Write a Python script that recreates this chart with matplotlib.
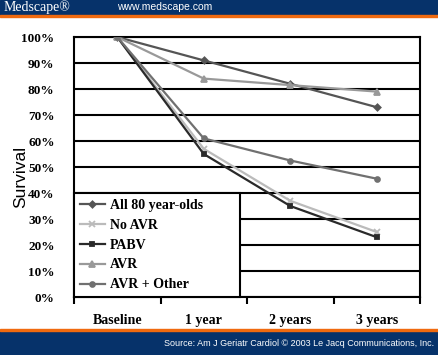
import matplotlib
matplotlib.use('Agg')
import matplotlib.pyplot as plt
from matplotlib.patches import Rectangle

# Data
categories = ['Baseline', '1 year', '2 years', '3 years']
all_80 = [100, 91, 82, 73]
no_avr = [100, 57, 37, 25]
pabv = [100, 55, 35, 23]
avr = [100, 84, 81.5, 79]
avr_other = [100, 61, 52.5, 45.5]
yticks = [0, 10, 20, 30, 40, 50, 60, 70, 80, 90, 100]

W, H = 438, 355
fig = plt.figure(figsize=(W / 100, H / 100), dpi=100)
fig.patch.set_facecolor('white')

navy = '#06326a'
orange = '#f06a0f'

# header / footer bands
fig.patches.append(Rectangle((0, 1 - 15 / H), 1, 15 / H, transform=fig.transFigure, color=navy, zorder=0))
fig.patches.append(Rectangle((0, 1 - 17 / H), 1, 2 / H, transform=fig.transFigure, color=orange, zorder=0))
fig.patches.append(Rectangle((0, 0), 1, 24 / H, transform=fig.transFigure, color=navy, zorder=0))
fig.patches.append(Rectangle((0, 24 / H), 1, 2 / H, transform=fig.transFigure, color=orange, zorder=0))
fig.text(4 / W, 1 - 7.5 / H, 'Medscape\u00ae', color='white', fontsize=10,
         family='Liberation Serif', va='center', ha='left')
fig.text(117 / W, 1 - 7.5 / H, 'www.medscape.com', color='white', fontsize=7.5,
         family='Liberation Sans', va='center', ha='left')
fig.text(1 - 4 / W, 11 / H, 'Source: Am J Geriatr Cardiol \u00a9 2003 Le Jacq Communications, Inc.',
         color='white', fontsize=6.5, family='Liberation Sans', va='center', ha='right')

ax = fig.add_axes([74 / W, 58 / H, 346 / W, 260 / H])
x = list(range(len(categories)))

series = [
    ('All 80 year-olds', all_80, '#555555', 'D', 3.2),
    ('No AVR', no_avr, '#bbbbbb', 'x', 4),
    ('PABV', pabv, '#2a2a2a', 's', 3.2),
    ('AVR', avr, '#999999', '^', 4),
    ('AVR + Other', avr_other, '#707070', 'o', 3.5),
]
for label, vals, col, mk, ms in series:
    ax.plot(x, vals, color=col, marker=mk, markersize=ms, lw=1.6, label=label,
            markeredgewidth=1.3, zorder=3)

ax.set_xlim(-0.5, 3.5)
ax.set_ylim(0, 100)
ax.set_yticks(yticks)
ax.set_yticklabels([f'{v}%' for v in yticks], family='Liberation Serif',
                   fontweight='bold', fontsize=9.5)
ax.set_xticks(x)
ax.set_xticklabels(categories, family='Liberation Serif', fontweight='bold', fontsize=10)
ax.tick_params(axis='x', length=0, pad=12)
ax.tick_params(axis='y', length=0, pad=14)
ax.set_xticks([-0.5, 0.5, 1.5, 2.5, 3.5], minor=True)
ax.tick_params(axis='x', which='minor', length=5, width=1.5, direction='out')
ax.yaxis.grid(True, color='black', lw=1.5)
ax.set_axisbelow(True)
for s in ax.spines.values():
    s.set_linewidth(1.5)
ax.set_ylabel('Survival', family='Liberation Sans', fontsize=12.5)
ax.yaxis.set_label_coords(-46 / 346, 0.46)

leg = ax.legend(loc='lower left', bbox_to_anchor=(0, 0, 166 / 346, 0.4), mode='expand',
                prop={'family': 'Liberation Serif', 'weight': 'bold', 'size': 10},
                frameon=True, fancybox=False, borderaxespad=0, handlelength=1.8,
                handletextpad=0.4, labelspacing=0.5, borderpad=0.4)
leg.get_frame().set_edgecolor('black')
leg.get_frame().set_linewidth(1.5)
leg.get_frame().set_facecolor('white')
leg.get_frame().set_alpha(1)

fig.savefig('out.png', dpi=100)
